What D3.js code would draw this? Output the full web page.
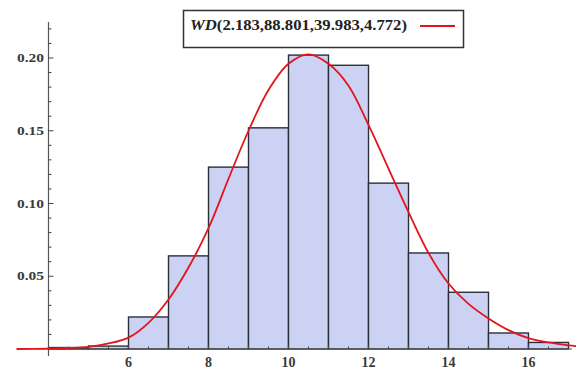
<!DOCTYPE html>
<html>
<head>
<meta charset="utf-8">
<script src="https://cdn.jsdelivr.net/npm/d3@7"></script>
<style>
  body { margin: 0; background: #fff; }
  svg { display: block; }
</style>
</head>
<body>
<script>
'use strict';

// histogram bins (left edges, unit width) and densities
const binStarts = [4, 5, 6, 7, 8, 9, 10, 11, 12, 13, 14, 15, 16];
const binHeights = [0.001, 0.002, 0.022, 0.064, 0.125, 0.152, 0.202, 0.195, 0.114, 0.066, 0.039, 0.011, 0.0045];

// fitted density curve
const curveX = [3.2, 4, 4.5, 5, 5.5, 6, 6.5, 7, 7.5, 8, 8.5, 9, 9.5, 10, 10.5, 11, 11.5, 12, 12.5, 13, 13.5, 14, 14.5, 15, 15.5, 16, 16.5, 17, 17.3];
const curveY = [0.0, 0.0003, 0.0007, 0.0015, 0.0038, 0.0078, 0.018, 0.034, 0.056, 0.083, 0.117, 0.150, 0.178, 0.196, 0.2025, 0.196, 0.181, 0.154, 0.124, 0.094, 0.066, 0.045, 0.031, 0.021, 0.013, 0.0075, 0.0045, 0.0025, 0.0018];

const yTicks = [0.05, 0.10, 0.15, 0.20];
const xTicks = [6, 8, 10, 12, 14, 16];
const legendLabel = ['WD', '(2.183,88.801,39.983,4.772)'];

const width = 576, height = 372;
const svg = d3.select('body').append('svg')
  .attr('width', width)
  .attr('height', height);

const x = d3.scaleLinear().domain([4, 17]).range([48.5, 568.5]);
const y = d3.scaleLinear().domain([0, 0.2]).range([349, 58]);

const barFill = '#ccd2f4';
const barStroke = '#2b2f3a';
const axisColor = '#555';
const labelFont = '"Liberation Serif", "Times New Roman", serif';

// bars
svg.append('g').selectAll('rect')
  .data(binStarts)
  .enter().append('rect')
    .attr('x', d => x(d))
    .attr('y', (d, i) => y(binHeights[i]))
    .attr('width', d => x(d + 1) - x(d))
    .attr('height', (d, i) => y(0) - y(binHeights[i]))
    .attr('fill', barFill)
    .attr('stroke', barStroke)
    .attr('stroke-width', 1.4);

// axes lines
svg.append('line')
  .attr('x1', 36).attr('x2', 572)
  .attr('y1', y(0)).attr('y2', y(0))
  .attr('stroke', axisColor).attr('stroke-width', 1.2);
svg.append('line')
  .attr('x1', x(4)).attr('x2', x(4))
  .attr('y1', 22).attr('y2', 356)
  .attr('stroke', axisColor).attr('stroke-width', 1.2);

// y ticks: minor every 0.01, major every 0.05
const yMinor = d3.range(1, 23).map(i => i * 0.01);
svg.append('g').selectAll('line')
  .data(yMinor)
  .enter().append('line')
    .attr('x1', x(4))
    .attr('x2', (d, i) => (i + 1) % 5 === 0 ? x(4) + 5 : x(4) + 3)
    .attr('y1', d => y(d)).attr('y2', d => y(d))
    .attr('stroke', '#444').attr('stroke-width', 1);

svg.append('g').selectAll('text')
  .data(yTicks)
  .enter().append('text')
    .attr('x', 44)
    .attr('y', d => y(d) + 4)
    .attr('text-anchor', 'end')
    .attr('font-family', labelFont)
    .attr('font-weight', 'bold')
    .attr('font-size', 13)
    .attr('fill', '#3a3a3a')
    .attr('textLength', 27)
    .attr('lengthAdjust', 'spacingAndGlyphs')
    .text(d => d3.format('.2f')(d));

// x ticks: minor every 0.5, major every 1
const xMinor = d3.range(9, 34).map(i => i * 0.5);
svg.append('g').selectAll('line')
  .data(xMinor)
  .enter().append('line')
    .attr('x1', d => x(d)).attr('x2', d => x(d))
    .attr('y1', y(0))
    .attr('y2', d => Number.isInteger(d) ? y(0) - 4 : y(0) - 2.5)
    .attr('stroke', '#444').attr('stroke-width', 1);

svg.append('g').selectAll('text')
  .data(xTicks)
  .enter().append('text')
    .attr('x', d => x(d))
    .attr('y', 367)
    .attr('text-anchor', 'middle')
    .attr('font-family', labelFont)
    .attr('font-weight', 'bold')
    .attr('font-size', 14)
    .attr('fill', '#3a3a3a')
    .text(d => d);

// density curve
const line = d3.line()
  .x(d => x(d[0]))
  .y(d => y(d[1]))
  .curve(d3.curveCatmullRom);
svg.append('path')
  .datum(curveX.map((v, i) => [v, curveY[i]]))
  .attr('fill', 'none')
  .attr('stroke', '#e3141c')
  .attr('stroke-width', 1.8)
  .attr('d', line);

// legend
const legend = svg.append('g');
legend.append('rect')
  .attr('x', 183.5).attr('y', 10.5)
  .attr('width', 280).attr('height', 37)
  .attr('fill', '#fff')
  .attr('stroke', '#333')
  .attr('stroke-width', 1.5);
const lt = legend.append('text')
  .attr('x', 190)
  .attr('y', 30)
  .attr('font-family', labelFont)
  .attr('font-weight', 'bold')
  .attr('font-size', 15.5)
  .attr('fill', '#222')
  .attr('textLength', 217)
  .attr('lengthAdjust', 'spacingAndGlyphs');
lt.append('tspan').attr('font-style', 'italic').text(legendLabel[0]);
lt.append('tspan').text(legendLabel[1]);
legend.append('line')
  .attr('x1', 420).attr('x2', 455)
  .attr('y1', 26).attr('y2', 26)
  .attr('stroke', '#e3141c')
  .attr('stroke-width', 2);
</script>
</body>
</html>
